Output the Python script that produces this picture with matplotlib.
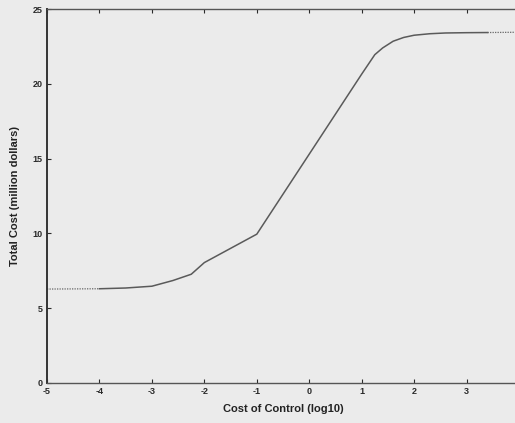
import matplotlib.pyplot as plt

# log10 cost of control vs total cost (million dollars)
log_cost = [-5.0, -4.0, -3.5, -3.0, -2.6, -2.25, -2.0, -1.5, -1.0, 0.0, 1.0, 1.25,
            1.4, 1.6, 1.8, 2.0, 2.3, 2.6, 3.0, 3.4, 4.0]
total_cost = [6.28, 6.3, 6.35, 6.47, 6.85, 7.27, 8.05, 9.0, 9.95, 15.3, 20.65, 21.95,
              22.4, 22.85, 23.1, 23.25, 23.35, 23.4, 23.42, 23.43, 23.45]

x_ticks = [-5, -4, -3, -2, -1, 0, 1, 2, 3]
y_ticks = [0, 5, 10, 15, 20, 25]

bg = '#ebebeb'
ink = '#2a2a2a'
plt.rcParams['font.family'] = ['Liberation Sans', 'DejaVu Sans']
plt.rcParams['axes.unicode_minus'] = False

fig = plt.figure(figsize=(5.15, 4.23), dpi=100, facecolor=bg)
ax = fig.add_axes([0.0913, 0.0946, 0.9165, 0.884], facecolor=bg)

# dotted tails at both ends, solid in between
solid = [i for i, x in enumerate(log_cost) if -4.0 <= x <= 3.4]
ax.plot(log_cost[:2], total_cost[:2], color='#666666', lw=0.9, ls=(0, (1, 1)))
ax.plot([log_cost[i] for i in solid], [total_cost[i] for i in solid],
        color='#5a5a5a', lw=1.1)
ax.plot(log_cost[-2:], total_cost[-2:], color='#666666', lw=0.9, ls=(0, (1, 1)))

ax.set_xlim(-5, 4)
ax.set_ylim(0, 25)
ax.set_xticks(x_ticks)
ax.set_yticks(y_ticks)
ax.tick_params(direction='in', length=3, top=True, right=True, labelsize=6.5,
               colors=ink, pad=3)
for lab in ax.get_xticklabels() + ax.get_yticklabels():
    lab.set_fontweight('bold')
for s in ax.spines.values():
    s.set_color('#555555')
    s.set_linewidth(1.0)
ax.spines['left'].set_linewidth(1.4)
ax.spines['left'].set_color('#333333')

ax.set_xlabel('Cost of Control (log10)', fontsize=8, fontweight='bold',
              color='#222222', labelpad=6)
ax.set_ylabel('Total Cost (million dollars)', fontsize=8, fontweight='bold',
              color='#222222', labelpad=9)

fig.savefig('out.png', dpi=100, facecolor=bg)
